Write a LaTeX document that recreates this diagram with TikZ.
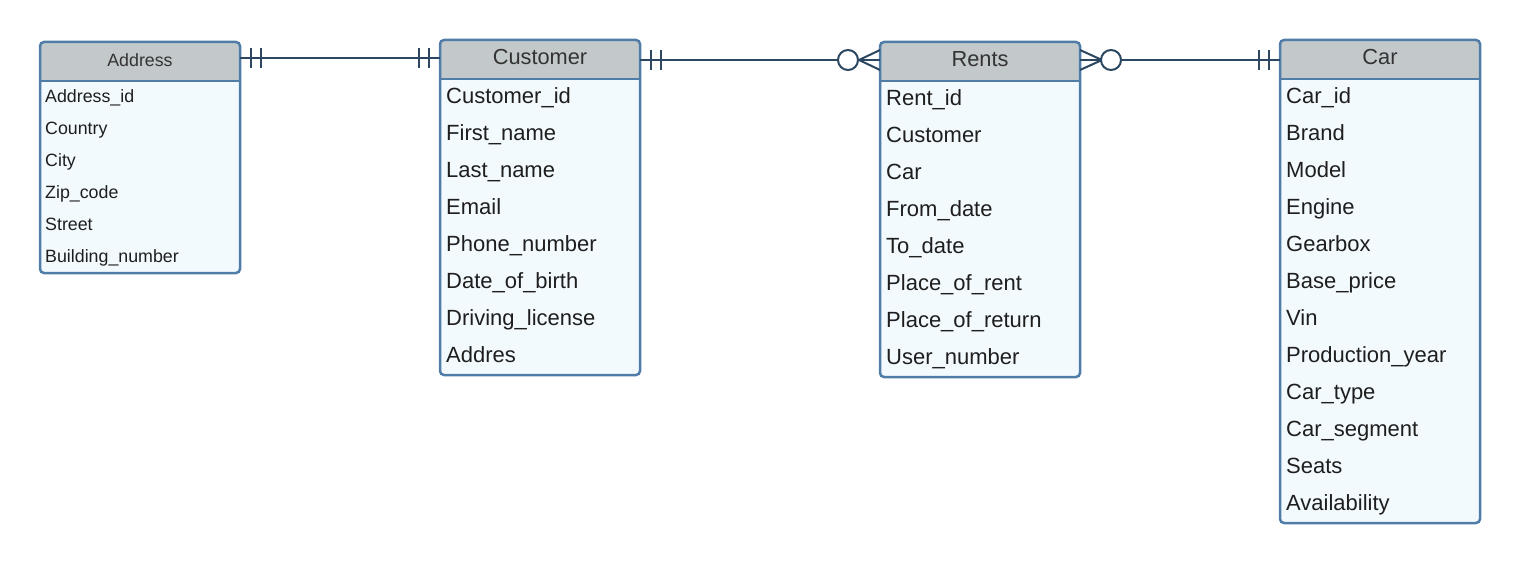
\documentclass[tikz,border=0pt]{standalone}
\usepackage{fontspec}
\setmainfont{Liberation Sans}
\usetikzlibrary{positioning,calc}
\definecolor{tblborder}{HTML}{4F7DA8}
\definecolor{hdrgray}{HTML}{C3C8CA}
\definecolor{rowfill}{HTML}{F3FAFE}
\definecolor{linkblue}{HTML}{2C4760}
\definecolor{txtdark}{HTML}{1E1E1E}
\definecolor{hdrtext}{HTML}{333333}

\tikzset{
  tbl/.style={draw=tblborder, fill=rowfill, line width=2.5pt, rounded corners=4pt,
    minimum width=200pt, inner sep=0pt, outer sep=0pt, anchor=north west,
    path picture={
      \fill[hdrgray] (path picture bounding box.north west)
        rectangle ([yshift=-39pt]path picture bounding box.north east);
      \draw[tblborder, line width=2.5pt] ([yshift=-39pt]path picture bounding box.north west)
        -- ([yshift=-39pt]path picture bounding box.north east);
    }},
  hdr/.style={anchor=north, minimum width=200pt, minimum height=39pt, inner sep=0pt,
    yshift=2.5pt, text=hdrtext, font=\fontsize{21.8}{24}\selectfont},
  shdr/.style={hdr, yshift=-1pt, font=\fontsize{17.8}{20}\selectfont},
  fld/.style={anchor=mid west, inner sep=0pt, text=txtdark, font=\fontsize{22}{24}\selectfont},
  sfld/.style={fld, font=\fontsize{17.8}{20}\selectfont},
  rel/.style={draw=linkblue, line width=2pt},
}

\begin{document}
\begin{tikzpicture}[x=1pt,y=1pt]
  \useasboundingbox (0,0) rectangle (1520,-564);

  % tables
  \node[tbl, minimum height=231pt] (address) at (40,-42) {};
  \node[shdr] (address-h) at (address.north) {Address};
  \foreach \f [count=\i] in {Address\_id, Country, City, Zip\_code, Street, Building\_number}
    \node[sfld] (address-\i) at ($(address.north west)+(5,{-58-32*(\i-1)})$) {\f};

  \node[tbl, minimum height=335pt, right=200pt of address.north east, anchor=north west,
        yshift=2pt] (customer) {};
  \node[hdr] (customer-h) at (customer.north) {Customer};
  \foreach \f [count=\i] in {Customer\_id, First\_name, Last\_name, Email, Phone\_number,
                             Date\_of\_birth, Driving\_license, Addres}
    \node[fld] (customer-\i) at ($(customer.north west)+(6,{-60.5-37*(\i-1)})$) {\f};

  \node[tbl, minimum height=335pt, right=240pt of customer.north east, anchor=north west,
        yshift=-2pt] (rents) {};
  \node[hdr] (rents-h) at (rents.north) {Rents};
  \foreach \f [count=\i] in {Rent\_id, Customer, Car, From\_date, To\_date,
                             Place\_of\_rent, Place\_of\_return, User\_number}
    \node[fld] (rents-\i) at ($(rents.north west)+(6,{-60.5-37*(\i-1)})$) {\f};

  \node[tbl, minimum height=483pt, right=200pt of rents.north east, anchor=north west,
        yshift=2pt] (car) {};
  \node[hdr] (car-h) at (car.north) {Car};
  \foreach \f [count=\i] in {Car\_id, Brand, Model, Engine, Gearbox, Base\_price, Vin,
                             Production\_year, Car\_type, Car\_segment, Seats, Availability}
    \node[fld] (car-\i) at ($(car.north west)+(6,{-60.5-37*(\i-1)})$) {\f};

  % relations
  \coordinate (ac) at (0,-58);
  \coordinate (cr) at (0,-60);

  % Address -- Customer : one and only one on both sides
  \draw[rel] (address.east |- ac) -- (customer.west |- ac);
  \draw[rel] ($(address.east |- ac)+(11,10)$) -- ++(0,-20);
  \draw[rel] ($(address.east |- ac)+(21,10)$) -- ++(0,-20);
  \draw[rel] ($(customer.west |- ac)+(-21,10)$) -- ++(0,-20);
  \draw[rel] ($(customer.west |- ac)+(-11,10)$) -- ++(0,-20);

  % Customer -- Rents : one to zero or many
  \draw[rel] (customer.east |- cr) -- (rents.west |- cr);
  \draw[rel] ($(customer.east |- cr)+(11,10)$) -- ++(0,-20);
  \draw[rel] ($(customer.east |- cr)+(21,10)$) -- ++(0,-20);
  \draw[rel] ($(rents.west |- cr)+(0,10)$) -- ($(rents.west |- cr)+(-21,0)$)
             -- ($(rents.west |- cr)+(0,-10)$);
  \draw[rel, fill=white] ($(rents.west |- cr)+(-32,0)$) circle (10);

  % Rents -- Car : zero or many to one
  \draw[rel] (rents.east |- cr) -- (car.west |- cr);
  \draw[rel] ($(rents.east |- cr)+(0,10)$) -- ($(rents.east |- cr)+(22,0)$)
             -- ($(rents.east |- cr)+(0,-10)$);
  \draw[rel, fill=white] ($(rents.east |- cr)+(31,0)$) circle (10);
  \draw[rel] ($(car.west |- cr)+(-21,10)$) -- ++(0,-20);
  \draw[rel] ($(car.west |- cr)+(-11,10)$) -- ++(0,-20);
\end{tikzpicture}
\end{document}
